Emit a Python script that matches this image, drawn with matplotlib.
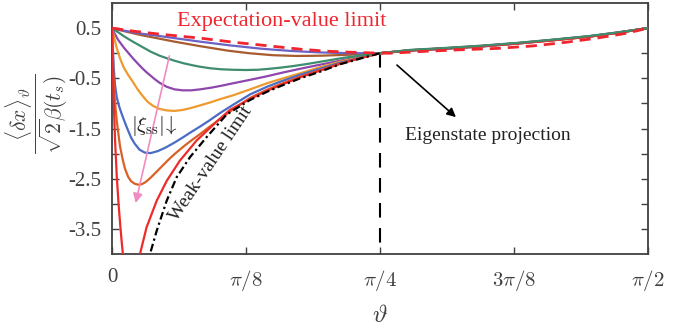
import numpy as np
import matplotlib
matplotlib.use("Agg")
import matplotlib.pyplot as plt

plt.rcParams['font.family'] = ['Liberation Serif', 'DejaVu Serif']
plt.rcParams['mathtext.fontset'] = 'cm'
plt.rcParams['axes.unicode_minus'] = False

# ---- data (theta in degrees) ----
right_deg = [50, 56, 62, 68, 74, 80, 85, 90]

exp_deg = [0, 3.5, 8, 14.8, 20.3, 26, 31.6, 36, 40, 45, 46.7, 52.9, 58.9, 64.6, 70.7, 76.4, 81.4, 86.5, 90]
exp_val = [0.5, 0.44, 0.38, 0.30, 0.22, 0.15, 0.08, 0.04, 0.02, 0.0, 0.0, 0.04, 0.07, 0.095, 0.145, 0.22, 0.30, 0.40, 0.5]

c1_deg = [0, 2, 4.9, 7.5, 10.5, 14.8, 19.5, 25, 30, 35, 40, 45] + right_deg
c1_val = [0.5, 0.45, 0.39, 0.35, 0.30, 0.23, 0.16, 0.09, 0.045, 0.015, 0.0, 0.0,
          0.05, 0.085, 0.13, 0.19, 0.26, 0.33, 0.41, 0.5]

c2_deg = [0, 2, 4.9, 7.5, 10.5, 14.8, 19.5, 23, 27, 31, 35, 40, 45] + right_deg
c2_val = [0.5, 0.44, 0.36, 0.30, 0.23, 0.14, 0.05, 0.0, -0.04, -0.055, -0.05, -0.03, 0.0,
          0.055, 0.095, 0.14, 0.198, 0.265, 0.335, 0.412, 0.5]

c3_deg = [0, 1, 2.1, 3.5, 5, 6.5, 8, 9.2, 10.5, 12, 13.5, 14.8, 16.5, 18.3, 20.3, 22.5, 24.5,
          26.5, 28.5, 30.5, 33, 35, 37, 39, 41.6, 43.3, 45] + right_deg
c3_val = [0.5, 0.42, 0.33, 0.23, 0.13, 0.03, -0.05, -0.10, -0.15, -0.20, -0.24, -0.27, -0.30,
          -0.32, -0.33, -0.335, -0.33, -0.31, -0.285, -0.255, -0.21, -0.17, -0.13, -0.09, -0.05, -0.03, 0.0,
          0.065, 0.105, 0.15, 0.205, 0.27, 0.34, 0.415, 0.5]

c4_deg = [0, 0.5, 1, 1.5, 2, 2.5, 3, 3.5, 4.2, 5, 5.8, 6.4, 7.2, 8, 9.2, 10.5, 11.9, 13.3, 14.8,
          16.5, 18.3, 20.3, 23.2, 26, 28.5, 31.6, 34.9, 38.3, 41.6, 45] + right_deg
c4_val = [0.5, 0.38, 0.27, 0.19, 0.11, 0.04, -0.03, -0.10, -0.19, -0.29, -0.38, -0.44, -0.52,
          -0.59, -0.67, -0.72, -0.74, -0.74, -0.72, -0.69, -0.65, -0.60, -0.53, -0.46, -0.39, -0.31,
          -0.23, -0.15, -0.07, 0.0,
          0.06, 0.1, 0.145, 0.2, 0.265, 0.335, 0.413, 0.5]

c5_deg = [0, 0.3, 0.8, 1.4, 2.0, 2.7, 3.5, 4.3, 5.2, 6.0, 6.9, 8.0, 9.2, 10.5, 11.9, 13.3, 14.8,
          16.5, 18.3, 20.3, 23.2, 26, 28.2, 31.6, 34.9, 38.3, 41.6, 45] + right_deg
c5_val = [0.5, 0.34, 0.10, -0.12, -0.29, -0.43, -0.57, -0.72, -0.86, -0.97, -1.05, -1.11, -1.14,
          -1.15, -1.13, -1.09, -1.04, -0.98, -0.91, -0.84, -0.72, -0.60, -0.52, -0.40, -0.28, -0.17,
          -0.08, 0.0,
          0.058, 0.098, 0.142, 0.198, 0.262, 0.332, 0.41, 0.5]

c6_deg = [0, 0.15, 0.3, 0.5, 0.8, 1.2, 1.6, 2.1, 2.7, 3.2, 3.8, 4.6, 5.5, 6.5, 7.7, 9.0, 10.5,
          12, 13.3, 14.8, 16.1, 18.3, 20.3, 23.2, 26, 28.2, 31.6, 34.9, 38.3, 41.6, 45] + right_deg
c6_val = [0.5, 0.1, -0.3, -0.62, -0.88, -1.06, -1.2, -1.36, -1.54, -1.68, -1.80, -1.92, -1.98,
          -1.99, -1.95, -1.88, -1.78, -1.67, -1.57, -1.46, -1.36, -1.18, -1.03, -0.82, -0.67, -0.57,
          -0.43, -0.31, -0.19, -0.09, 0.0,
          0.057, 0.097, 0.14, 0.196, 0.26, 0.33, 0.41, 0.5]

c7_deg = [0, 0.1, 0.25, 0.45, 0.8, 1.34, 1.8, 2.18, 2.7, 3.2, 3.8, 4.4, 5.0, 5.6, 6.4, 7.5, 8.5,
          9.5, 10.5, 12.0, 13.3, 14.8, 16.1, 17.6, 20.3, 23.2, 26, 28.2, 31.6, 34.9, 38.3, 41.6, 45] + right_deg
c7_val = [0.5, 0.0, -0.5, -0.9, -1.35, -1.85, -2.12, -2.3, -2.46, -2.55, -2.6, -2.62, -2.61,
          -2.57, -2.49, -2.36, -2.24, -2.12, -2.01, -1.86, -1.74, -1.61, -1.49, -1.36, -1.12, -0.89,
          -0.73, -0.62, -0.47, -0.34, -0.21, -0.10, 0.0,
          0.056, 0.096, 0.138, 0.194, 0.258, 0.328, 0.408, 0.5]

c8_deg = [0, 0.1, 0.25, 0.5, 0.8, 1.1, 1.4, 1.7, 2.0, 2.4, 2.9, 3.4, 3.9, 4.7, 5.8, 7.5, 9.2,
          11.4, 14.2, 17.6, 19.8, 23.2, 26, 28.2, 31.6, 34.9, 38.3, 41.6, 45] + right_deg
c8_val = [0.5, -0.1, -0.8, -1.7, -2.45, -3.0, -3.45, -3.85, -4.2, -4.55, -4.75, -4.7, -4.45,
          -4.0, -3.47, -2.94, -2.54, -2.14, -1.74, -1.36, -1.13, -0.91, -0.75, -0.64, -0.48, -0.35,
          -0.21, -0.10, 0.0,
          0.055, 0.095, 0.137, 0.192, 0.256, 0.326, 0.406, 0.5]

weak_deg = [5.5, 6.38, 7.5, 9.18, 10.86, 13.1, 15.9, 19.26, 23.2, 26, 28.2, 31.6, 34.9, 38.3, 41.6, 45]
weak_val = [-4.6, -4.0, -3.54, -2.94, -2.47, -2.07, -1.67, -1.22, -0.93, -0.77, -0.66, -0.50, -0.37, -0.22, -0.11, 0.0]

curve_degs = [c1_deg, c2_deg, c3_deg, c4_deg, c5_deg, c6_deg, c7_deg, c8_deg]
curve_vals = [c1_val, c2_val, c3_val, c4_val, c5_val, c6_val, c7_val, c8_val]
curve_colors = ['#6A62C4', '#A85B2E', '#3E8D6E', '#8E47AD', '#EE9A2E', '#4A6CC4', '#DA6126', '#EE2B2B']
curve_z = [2.3, 2.2, 2.8, 2.4, 2.5, 2.6, 2.7, 2.75]

xticks_val = [0, np.pi/8, np.pi/4, 3*np.pi/8, np.pi/2]
xtick_labels = ['0', r'$\pi/8$', r'$\pi/4$', r'$3\pi/8$', r'$\pi/2$']
yticks_val = [0.5, 0, -0.5, -1, -1.5, -2, -2.5, -3, -3.5]
ytick_labels = ['0.5', '', '-0.5', '', '-1.5', '', '-2.5', '', '-3.5']

fig = plt.figure(figsize=(6.96, 3.29), dpi=100)
ax = fig.add_axes([112/696, 1-254/329, 536/696, 251/329])

for d, v, c, z in zip(curve_degs, curve_vals, curve_colors, curve_z):
    ax.plot(np.deg2rad(d), v, color=c, lw=1.6, solid_capstyle='round', solid_joinstyle='round', zorder=z)

ax.plot(np.deg2rad(weak_deg), weak_val, color='black', lw=1.6, ls=(0, (3.5, 1.5, 1, 1.5)), zorder=3)
ax.plot(np.deg2rad(exp_deg), exp_val, color='#F0252D', lw=2.0, ls=(0, (4, 2.5)), zorder=4)

# vertical eigenstate-projection line
ax.plot([np.pi/4, np.pi/4], [0, -4], color='black', lw=1.5, ls=(0, (7, 5)), zorder=1)

ax.set_xlim(0, np.pi/2)
ax.set_ylim(-4, 1)
ax.set_xticks(xticks_val)
ax.set_xticklabels(xtick_labels)
ax.set_yticks(yticks_val)
ax.set_yticklabels(ytick_labels)
ax.tick_params(direction='in', top=True, right=True, length=5, width=1.0,
               labelsize=15, labelcolor='#404040', color='#404040')
ax.tick_params(axis='x', pad=10)
ax.tick_params(axis='y', pad=8)
for s in ax.spines.values():
    s.set_color('#404040')
    s.set_linewidth(1.3)

ax.set_xlabel(r'$\vartheta$', fontsize=18, color='#404040')
ax.xaxis.set_label_coords(0.5, -0.205)
fig.text(37/696, 1-114/329, r'$\dfrac{\langle\delta x\rangle_\vartheta}{\sqrt{2}\beta(t_s)}$',
         fontsize=15.5, color='#404040', rotation=90, ha='center', va='center')

# annotations
ax.annotate('', xy=(np.deg2rad(3.86), -3.04), xytext=(np.deg2rad(9.74), 0.0),
            arrowprops=dict(arrowstyle='-|>', color='#F08CC0', lw=1.2, mutation_scale=14), zorder=5)
ax.text(np.deg2rad(7.0), -1.45, r'$|\xi_{\rm ss}|\!\downarrow$', fontsize=15, ha='center', va='center',
        color='#222222', zorder=6)
ax.text(np.deg2rad(10.9), 0.63, 'Expectation-value limit', fontsize=16, color='#F0252D',
        ha='left', va='center')
ax.text(np.deg2rad(16.6), -2.2, 'Weak-value limit', fontsize=14, color='#222222',
        rotation=56, ha='center', va='center', rotation_mode='anchor')
ax.text(np.deg2rad(63.1), -1.64, 'Eigenstate projection', fontsize=14, color='#222222',
        ha='center', va='center')
ax.annotate('', xy=(np.deg2rad(58.1), -1.31), xytext=(np.deg2rad(47.5), -0.2),
            arrowprops=dict(arrowstyle='-|>', color='black', lw=1.2, mutation_scale=13))

fig.savefig('out.png', dpi=100)
